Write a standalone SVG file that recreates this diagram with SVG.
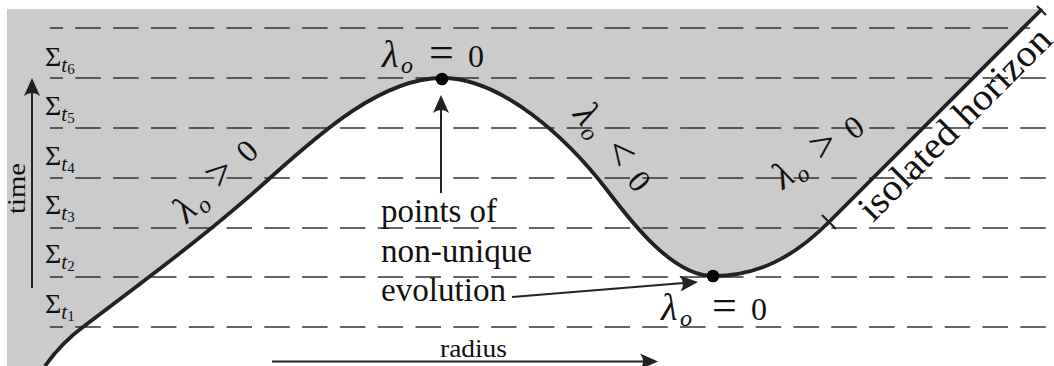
<svg xmlns="http://www.w3.org/2000/svg" width="1054" height="366" viewBox="0 0 1054 366">
<style>
.t{font-family:"Liberation Serif","Times New Roman",serif;fill:#111}
.it{font-style:italic}
.op{font-family:"Liberation Serif","Times New Roman",serif;fill:#111;font-size:44px}
.lam{font-family:"Liberation Serif","Times New Roman",serif;font-style:italic;fill:#111;font-size:38px}
.sub{font-family:"Liberation Serif","Times New Roman",serif;font-style:italic;fill:#111;font-size:24px}
.dash{stroke:#333;stroke-width:1.3;stroke-dasharray:25.5 12.3;stroke-dashoffset:12.5;fill:none}
.curve{stroke:#222;stroke-width:3.8;fill:none;stroke-linejoin:round}
.arr{stroke:#222;stroke-width:2;fill:none;marker-end:url(#ah)}
.dot{fill:#000}
</style>
<defs>
<marker id="ah" viewBox="-20 -10 22 20" refX="-8" refY="0" markerWidth="22" markerHeight="20" orient="auto" markerUnits="userSpaceOnUse">
<path d="M0,0 L-18,-8 Q-12,0 -18,8 Z" fill="#222"/>
</marker>
</defs>

<g id="region">
<path d="M7,366 L45,366 C55,352 68,338 83,327 C145,280 208,234 270,178 C320,133 382,78 442,78 C502,78 567,138 607,190 C632,223 673,276 713,276 C758,276 794,257 829,222 L1042,9 L7,9 Z" fill="#cbcbcb"/>
</g>

<g id="time-slices">
<line class="dash" x1="50" y1="28" x2="1030" y2="28"/>
<line class="dash" x1="50" y1="78" x2="1054" y2="78"/>
<line class="dash" x1="50" y1="128" x2="1054" y2="128"/>
<line class="dash" x1="50" y1="178" x2="1054" y2="178"/>
<line class="dash" x1="50" y1="228" x2="1054" y2="228"/>
<line class="dash" x1="50" y1="277" x2="1054" y2="277"/>
<line class="dash" x1="50" y1="327" x2="1054" y2="327"/>
</g>

<g id="slice-labels">
<text class="t" x="45" y="66" font-size="28">Σ<tspan class="it" font-size="21" dy="6">t</tspan><tspan font-size="15" dy="2">6</tspan></text>
<text class="t" x="45" y="115" font-size="28">Σ<tspan class="it" font-size="21" dy="6">t</tspan><tspan font-size="15" dy="2">5</tspan></text>
<text class="t" x="45" y="165" font-size="28">Σ<tspan class="it" font-size="21" dy="6">t</tspan><tspan font-size="15" dy="2">4</tspan></text>
<text class="t" x="45" y="214" font-size="28">Σ<tspan class="it" font-size="21" dy="6">t</tspan><tspan font-size="15" dy="2">3</tspan></text>
<text class="t" x="45" y="263" font-size="28">Σ<tspan class="it" font-size="21" dy="6">t</tspan><tspan font-size="15" dy="2">2</tspan></text>
<text class="t" x="45" y="313" font-size="28">Σ<tspan class="it" font-size="21" dy="6">t</tspan><tspan font-size="15" dy="2">1</tspan></text>
</g>

<g id="horizon-curve">
<path class="curve" d="M45,366 C55,352 68,338 83,327 C145,280 208,234 270,178 C320,133 382,78 442,78 C502,78 567,138 607,190 C632,223 673,276 713,276 C758,276 794,257 829,222 L1042,9"/>
<line x1="822" y1="215" x2="836" y2="229" stroke="#222" stroke-width="2.2"/>
<line x1="1037" y1="6" x2="1046" y2="15" stroke="#222" stroke-width="2.2"/>
</g>

<g id="label-left">
<g transform="translate(187,224) rotate(-44)">
<text class="lam" x="0" y="0">λ</text>
<text class="sub" x="19" y="6">o</text>
<text class="op" x="47" y="0">&gt;</text>
<text class="t" x="86" y="0" font-size="32">0</text>
</g>
</g>

<g id="label-middle">
<g transform="translate(572,115) rotate(51)">
<text class="lam" x="0" y="0">λ</text>
<text class="sub" x="19" y="6">o</text>
<text class="op" x="47" y="0">&lt;</text>
<text class="t" x="86" y="0" font-size="32">0</text>
</g>
</g>

<g id="label-right">
<g transform="translate(783,190) rotate(-35)">
<text class="lam" x="0" y="0">λ</text>
<text class="sub" x="19" y="6">o</text>
<text class="op" x="47" y="0">&gt;</text>
<text class="t" x="86" y="0" font-size="32">0</text>
</g>
</g>

<g id="isolated-horizon-label">
<text class="t" transform="translate(873,223) rotate(-45)" x="0" y="0" font-size="38" textLength="256" lengthAdjust="spacingAndGlyphs">isolated horizon</text>
</g>

<g id="node-peak">
<circle class="dot" cx="442" cy="79" r="6.3"/>
<g transform="translate(382,67)">
<text class="lam" x="0" y="0">λ</text>
<text class="sub" x="19" y="6">o</text>
<text class="op" x="47" y="0">=</text>
<text class="t" x="86" y="0" font-size="32">0</text>
</g>
</g>

<g id="node-trough">
<circle class="dot" cx="713" cy="276" r="6.3"/>
<g transform="translate(661,320)">
<text class="lam" x="0" y="0">λ</text>
<text class="sub" x="19" y="6">o</text>
<text class="op" x="51" y="0">=</text>
<text class="t" x="90" y="0" font-size="32">0</text>
</g>
</g>

<g id="note">
<text class="t" x="381" y="222" font-size="33" textLength="116" lengthAdjust="spacingAndGlyphs">points of</text>
<text class="t" x="381" y="262" font-size="33" textLength="151" lengthAdjust="spacingAndGlyphs">non-unique</text>
<text class="t" x="381" y="301" font-size="33" textLength="125" lengthAdjust="spacingAndGlyphs">evolution</text>
</g>

<g id="axes">
<line class="arr" x1="32" y1="288" x2="32" y2="86"/>
<text class="t" transform="translate(25,214) rotate(-90)" x="0" y="0" font-size="26" textLength="51" lengthAdjust="spacingAndGlyphs">time</text>
<line class="arr" x1="272" y1="361.5" x2="650" y2="361.5"/>
<text class="t" x="440" y="357" font-size="25" textLength="67" lengthAdjust="spacingAndGlyphs">radius</text>
</g>

<g id="connectors">
<line class="arr" x1="441" y1="193" x2="441" y2="103"/>
<line class="arr" x1="512" y1="297" x2="690" y2="282.6"/>
</g>
</svg>
